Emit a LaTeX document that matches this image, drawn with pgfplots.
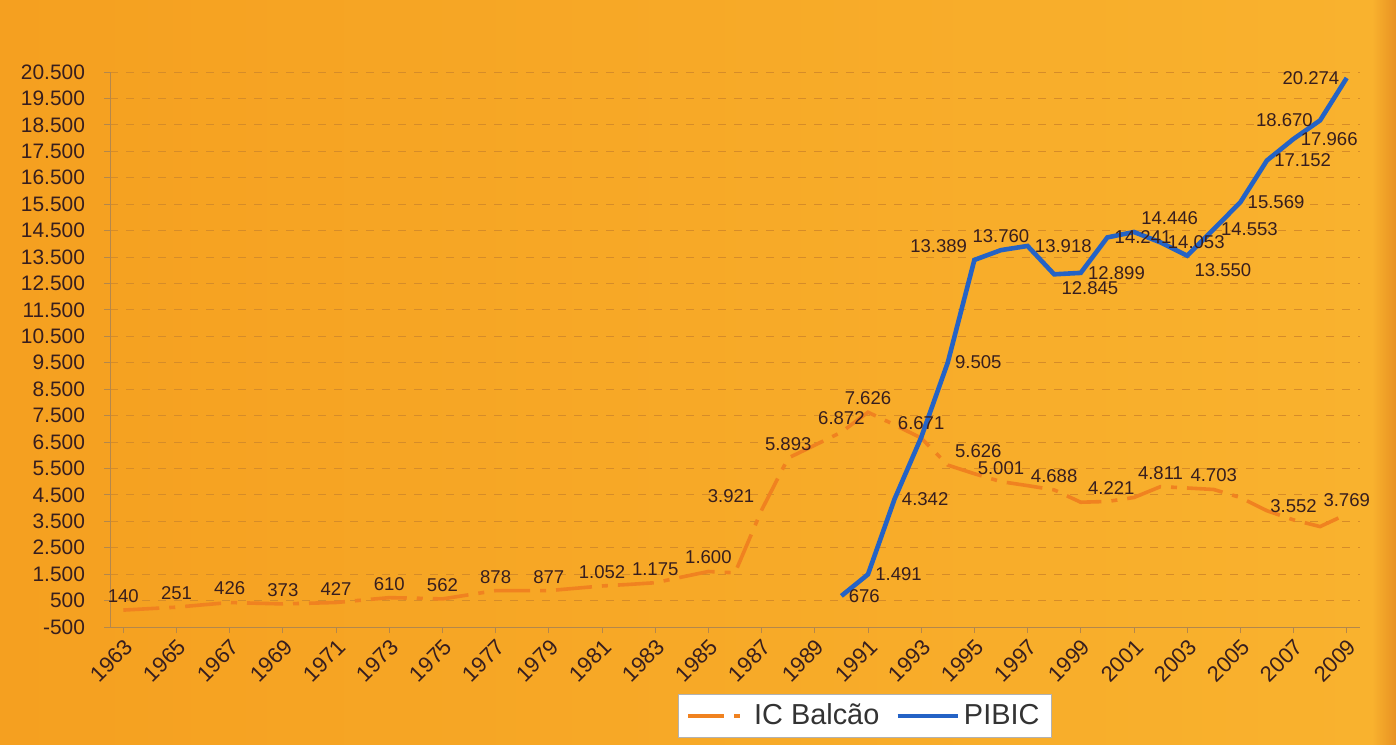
\documentclass[border=0pt]{standalone}
\usepackage{pgfplots}
\pgfplotsset{compat=1.18}
\usepackage{pgfplotstable}
\usepackage{fontspec}
\setmainfont{Liberation Sans}

\definecolor{bgA}{RGB}{245,160,32}
\definecolor{bgB}{RGB}{249,178,46}
\definecolor{bgC}{RGB}{232,146,34}
\definecolor{icor}{RGB}{240,130,32}
\definecolor{pib}{RGB}{36,99,198}
\definecolor{txt}{RGB}{55,30,30}
\definecolor{grd}{RGB}{214,140,40}

\pgfplotstableread{
x y
1963 140
1964 195
1965 251
1966 340
1967 426
1968 400
1969 373
1970 400
1971 427
1972 520
1973 610
1974 590
1975 562
1976 720
1977 878
1978 878
1979 877
1980 965
1981 1052
1982 1110
1983 1175
1984 1390
1985 1600
1986 1550
1987 3921
1988 5893
1989 6380
1990 6872
1991 7626
1992 7150
1993 6650
1994 5626
1995 5300
1996 5001
1997 4850
1998 4688
1999 4221
2000 4250
2001 4400
2002 4811
2003 4760
2004 4703
2005 4400
2006 3900
2007 3552
2008 3300
2009 3769
}\ictable

\pgfplotstableread{
x y
1990 676
1991 1491
1992 4342
1993 6671
1994 9505
1995 13389
1996 13760
1997 13918
1998 12845
1999 12899
2000 14241
2001 14446
2002 14053
2003 13550
2004 14553
2005 15569
2006 17152
2007 17966
2008 18670
2009 20274
}\pibtable

\pgfplotsset{
  lbl/.style={draw=none, forget plot, nodes near coords, point meta=explicit symbolic,
    every node near coord/.append style={anchor=#1, font=\fontsize{9.3}{10}\selectfont, text=txt, inner sep=3.5bp}},
}

\begin{document}
\begin{tikzpicture}
\shade[left color=bgA, right color=bgB] (0bp,0bp) rectangle (686bp,372.5bp);
\shade[left color=bgB, right color=bgC] (686bp,0bp) rectangle (698bp,372.5bp);
\begin{axis}[
  at={(55bp,59bp)}, anchor=south west,
  scale only axis, width=625bp, height=277.5bp,
  xmin=1962.5, xmax=2009.5, ymin=-500, ymax=20500,
  xtick={1963,1965,...,2009},
  ytick={-500,500,...,20500},
  scaled y ticks=false, scaled x ticks=false,
  ymajorgrids, major grid style={dash pattern=on 4bp off 4bp, grd, line width=0.4pt},
  axis lines*=left,
  axis line style={grd!60!gray, line width=0.5pt},
  tick align=outside, tick style={grd!60!gray, line width=0.4pt}, major tick length=3bp,
  /pgf/number format/assume math mode=true,
  x tick label style={rotate=45, anchor=north east, font=\fontsize{11}{11}\selectfont, text=txt, inner sep=1.5bp, /pgf/number format/set thousands separator={}},
  y tick label style={font=\fontsize{10.5}{12}\selectfont, text=txt, /pgf/number format/set thousands separator={.}, xshift=-6bp},
  legend style={at={(0.604,-0.12)}, anchor=north, legend columns=2, draw=gray!60, fill=white,
    font=\fontsize{14.5}{16}\selectfont, text=black!80, inner xsep=4bp, inner ysep=3bp,
    /tikz/every even column/.append style={column sep=6bp}},
  legend image code/.code={\draw[#1] (0bp,0bp) -- (30bp,0bp);},
  clip=false,
]
\addplot[icor, line width=1.8bp, dash pattern=on 18bp off 5bp on 3bp off 5bp] table[x=x,y=y] {\ictable};
\addlegendentry{IC Balcão}
\addplot[pib, line width=2.3bp] table[x=x,y=y] {\pibtable};
\addlegendentry{PIBIC}
% IC Balcao labels
\addplot[lbl=south] coordinates {
 (1963,140) [140] (1965,251) [251] (1967,426) [426] (1969,373) [373]
 (1971,427) [427] (1973,610) [610] (1975,562) [562] (1977,878) [878]
 (1979,877) [877] (1981,1052) [1.052] (1983,1175) [1.175] (1985,1600) [1.600]
 (1988,5893) [5.893] (1990,6872) [6.872] (1991,7626) [7.626] (1996,5001) [5.001]
 (1998,4688) [4.688] (2002,4811) [4.811] (2004,4703) [4.703] (2007,3552) [3.552]
 (2009,3769) [3.769]};
\addplot[lbl=south east] coordinates {(1987,3921) [3.921]};
\addplot[lbl=south west] coordinates {(1994,5626) [5.626] (1999,4221) [4.221]};
% PIBIC labels
\addplot[lbl=west] coordinates {
 (1990,676) [676] (1991,1491) [1.491] (1992,4342) [4.342] (1994,9505) [9.505]
 (1997,13918) [13.918] (1999,12899) [12.899] (2000,14241) [14.241] (2002,14053) [14.053]
 (2004,14553) [14.553] (2005,15569) [15.569] (2006,17152) [17.152] (2007,17966) [17.966]};
\addplot[lbl=south] coordinates {(1993,6671) [6.671] (1996,13760) [13.760]};
\addplot[lbl=south east] coordinates {(1995,13389) [13.389]};
\addplot[lbl=north west] coordinates {(1998,12845) [12.845] (2003,13550) [13.550]};
\addplot[lbl=south west] coordinates {(2001,14446) [14.446]};
\addplot[lbl=east] coordinates {(2008,18670) [18.670] (2009,20274) [20.274]};
\end{axis}
\pgfresetboundingbox
\useasboundingbox (0bp,0bp) rectangle (698bp,372.5bp);
\end{tikzpicture}
\end{document}
